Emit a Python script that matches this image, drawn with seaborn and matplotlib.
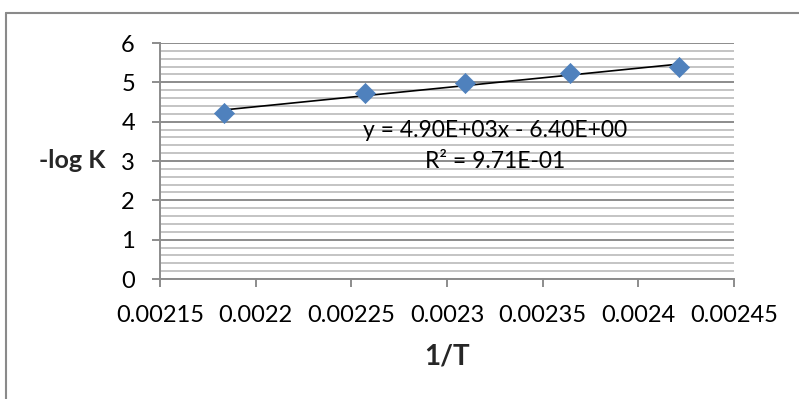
import numpy as np
import pandas as pd
import matplotlib
matplotlib.use("Agg")
import matplotlib.pyplot as plt
from matplotlib.ticker import MultipleLocator, FuncFormatter
from matplotlib.lines import Line2D
import seaborn as sns

# Data
inv_T = [0.0021834, 0.0022573, 0.0023095, 0.0023641, 0.0024213]
neg_log_K = [4.22, 4.73, 4.98, 5.24, 5.39]
fit_slope = 4.90e3
fit_intercept = -6.40
eq_text = "y = 4.90E+03x - 6.40E+00"
r2_text = "R² = 9.71E-01"
x_ticks = [0.00215, 0.0022, 0.00225, 0.0023, 0.00235, 0.0024, 0.00245]
y_ticks = [0, 1, 2, 3, 4, 5, 6]
x_label = "1/T"
y_label = "-log K"

sns.set_style("white")
plt.rcParams['font.family'] = ['Lato', 'DejaVu Sans']

fig = plt.figure(figsize=(7.99, 3.99), dpi=100)
W, H = 799, 399
x0, x1, y0, y1 = 160, 734, 279, 43
ax = fig.add_axes([x0 / W, 1 - y0 / H, (x1 - x0) / W, (y0 - y1) / H])

major_c = "#8c8c8c"
minor_c = "#c4c4c4"

df = pd.DataFrame({"x": inv_T, "y": neg_log_K})
fit_x = np.array([min(inv_T), max(inv_T)])
fit_df = pd.DataFrame({"x": fit_x, "y": fit_slope * fit_x + fit_intercept})

ax.set_xlim(x_ticks[0], x_ticks[-1])
ax.set_ylim(y_ticks[0], y_ticks[-1])
ax.set_xticks(x_ticks)
ax.set_yticks(y_ticks)
ax.yaxis.set_minor_locator(MultipleLocator(0.2))
ax.xaxis.set_major_formatter(FuncFormatter(lambda v, p: f"{v:.5f}".rstrip('0')))
ax.yaxis.set_major_formatter(FuncFormatter(lambda v, p: f"{int(round(v))}"))

ax.grid(False)
ax.grid(axis='y', which='minor', color=minor_c, linewidth=1.4, zorder=0)
ax.grid(axis='y', which='major', color=major_c, linewidth=1.4, zorder=0)
ax.set_axisbelow(True)

sns.lineplot(data=fit_df, x="x", y="y", ax=ax, color="black", linewidth=1.2, zorder=3)
sns.scatterplot(data=df, x="x", y="y", ax=ax, marker="D", s=105, color="#4F81BD",
                edgecolor="#4F81BD", linewidth=0.5, zorder=4)

for s in ["top", "right"]:
    ax.spines[s].set_visible(False)
for s in ["left", "bottom"]:
    ax.spines[s].set_color(major_c)
    ax.spines[s].set_linewidth(1.4)

ax.tick_params(axis='both', which='major', direction='out', length=6, width=1.4,
               color=major_c, labelsize=17, labelcolor="black",
               bottom=True, left=True)
ax.tick_params(axis='y', which='major', pad=12)
ax.tick_params(axis='x', which='major', pad=13)
ax.tick_params(axis='both', which='minor', length=0, bottom=False, left=False)

ax.set_xlabel(x_label, fontsize=20, fontweight='bold', va='center')
ax.xaxis.set_label_coords(0.5, (y0 - 357) / (y0 - y1))
ax.set_ylabel(y_label, fontsize=18, fontweight='bold', rotation=0, ha='right', va='center')
ax.yaxis.set_label_coords((105 - x0) / (x1 - x0), 0.5)

ax.text(0.002325, 3.38, eq_text + "\n" + r2_text, ha='center', va='center',
        fontsize=16.5, linespacing=1.6, color='black', zorder=5)

# outer chart frame
frame_c = "#8a8a8a"
fig.add_artist(Line2D([6 / W, 6 / W], [0, 1 - 13 / H], color=frame_c, linewidth=1.5))
fig.add_artist(Line2D([6 / W, 1], [1 - 13 / H, 1 - 13 / H], color=frame_c, linewidth=1.5))

fig.savefig("out.png", dpi=100)
